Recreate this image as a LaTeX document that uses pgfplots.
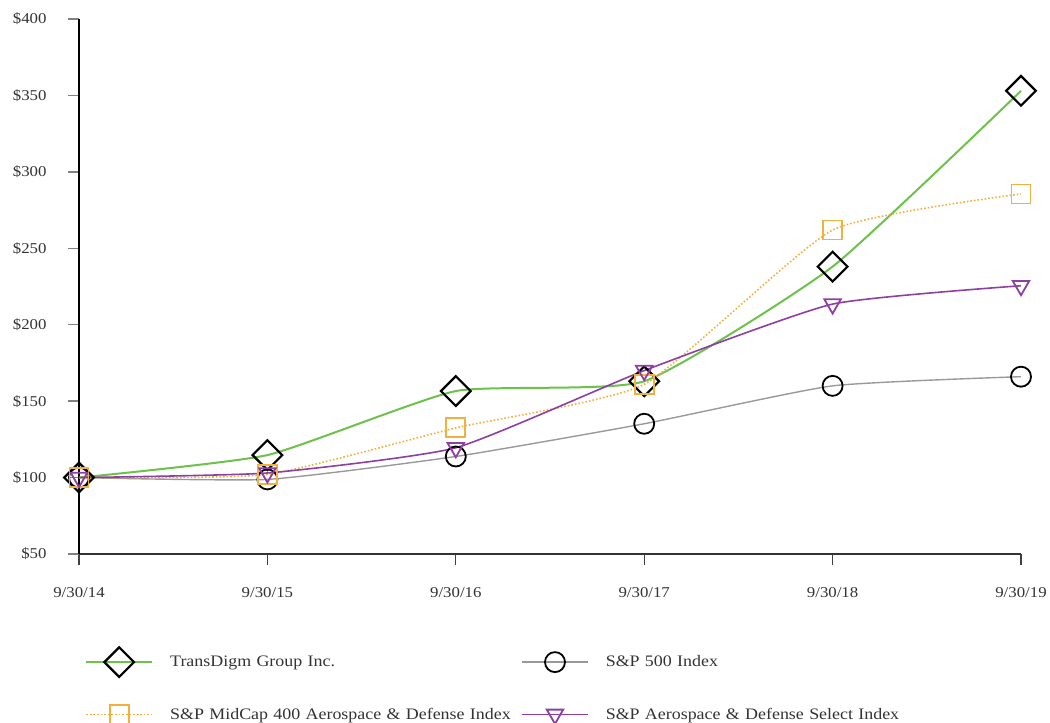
\documentclass[border=0pt]{standalone}
\usepackage{pgfplots}
\pgfplotsset{compat=1.18}
\usepackage{fontspec}
\setmainfont{Liberation Serif}[FakeStretch=1.12]
\definecolor{tdgreen}{HTML}{6CC24A}
\definecolor{spgray}{HTML}{999999}
\definecolor{mcorange}{HTML}{F2B13E}
\definecolor{adpurple}{HTML}{8E3FA3}
\definecolor{txt}{HTML}{333333}
\begin{document}
\begin{tikzpicture}
\useasboundingbox (-79pt,-169pt) rectangle (971pt,554pt);
\begin{axis}[
  at={(0pt,0pt)}, anchor=south west,
  scale only axis, width=942pt, height=535pt,
  xmin=0, xmax=5, ymin=50, ymax=400,
  clip=false,
  axis lines=left,
  axis line style={-},
  x axis line style={draw=black!80, line width=1.6pt},
  y axis line style={draw=black, line width=2.8pt},
  xtick={0,1,2,3,4,5},
  xticklabels={9/30/14,9/30/15,9/30/16,9/30/17,9/30/18,9/30/19},
  ytick={50,100,150,200,250,300,350,400},
  yticklabels={\$50,\$100,\$150,\$200,\$250,\$300,\$350,\$400},
  tick align=outside,
  major tick length=11pt,
  x tick style={draw=black!75, line width=1.3pt},
  y tick style={draw=black!50, line width=1.3pt},
  ticklabel style={font=\fontsize{15}{17}\selectfont, text=txt},
  xticklabel style={yshift=-19pt},
  yticklabel style={xshift=-18pt},
  legend columns=2,
  legend cell align=left,
  legend style={draw=none, fill=none, inner sep=0pt,
    at={(0,0)}, anchor=west, xshift=6pt, yshift=-132pt,
    font=\fontsize{16}{18}\selectfont, text=txt,
    nodes={inner xsep=0pt, inner ysep=4pt, text width=350pt, align=left},
    row sep=27pt,
    /tikz/every odd column/.append style={column sep=17pt},
    /tikz/every even column/.append style={column sep=1pt}},
  legend image code/.code={\draw[mark repeat=2,mark phase=2,#1] plot coordinates {(0pt,0pt) (33pt,0pt) (66pt,0pt)};},
]
\addplot[color=tdgreen, line width=2pt, smooth, tension=0.3,
  mark=square, mark size=10.5pt, mark options={draw=black, fill=none, line width=2.2pt, rotate=45, solid}]
  coordinates {(0,100) (1,114.7) (2,156.6) (3,163) (4,238) (5,353)};
\addlegendentry{TransDigm Group Inc.}
\addplot[color=spgray, line width=1.4pt, smooth, tension=0.3,
  mark=o, mark size=10pt, mark options={draw=black, fill=none, line width=1.8pt, solid}]
  coordinates {(0,100) (1,98.8) (2,113.8) (3,135.2) (4,160) (5,166)};
\addlegendentry{S\&P 500 Index}
\addplot[color=mcorange, line width=1.6pt, dotted, smooth, tension=0.3,
  mark=square, mark size=9.5pt, mark options={draw=mcorange, fill=none, line width=1.8pt, solid}]
  coordinates {(0,100) (1,102) (2,132.5) (3,161) (4,262) (5,285.5)};
\addlegendentry{S\&P MidCap 400 Aerospace \& Defense Index}
\addplot[color=adpurple, line width=1.6pt, smooth, tension=0.3,
  mark=triangle, mark size=9.5pt, mark options={draw=adpurple, fill=none, line width=1.8pt, rotate=180, solid}]
  coordinates {(0,100) (1,103) (2,119.5) (3,170) (4,213.5) (5,225.5)};
\addlegendentry{S\&P Aerospace \& Defense Select Index}
\end{axis}
\end{tikzpicture}
\end{document}
